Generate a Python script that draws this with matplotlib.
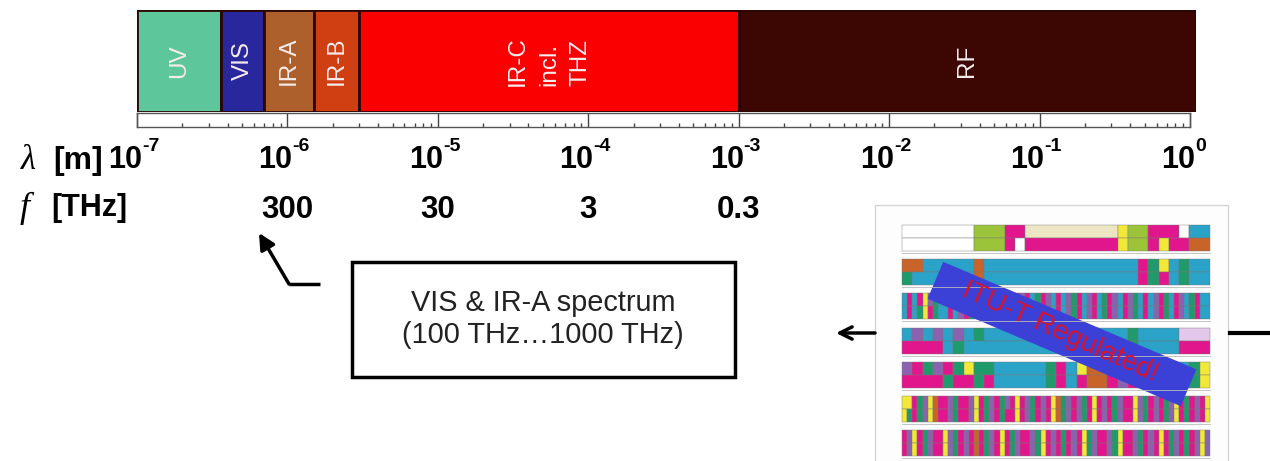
import numpy as np
import matplotlib
matplotlib.use("Agg")
import matplotlib.pyplot as plt
from matplotlib.patches import Rectangle
from matplotlib.ticker import LogLocator, NullFormatter
from matplotlib import transforms

plt.rcParams["font.family"] = ["Liberation Sans", "DejaVu Sans"]

# spectrum bands, wavelength in m
bands = ["UV", "VIS", "IR-A", "IR-B", "IR-C\nincl.\nTHZ", "RF"]
band_start = [1e-7, 3.6e-7, 7e-7, 1.5e-6, 3e-6, 1e-3]
band_end = [3.6e-7, 7e-7, 1.5e-6, 3e-6, 1e-3, 1.1]
band_colors = ["#5dc79b", "#28289c", "#ae602c", "#cf3f12", "#fb0000", "#3c0602"]

wl_exponents = [-7, -6, -5, -4, -3, -2, -1, 0]
freq_wl = [1e-6, 1e-5, 1e-4, 1e-3]
freq_labels = ["300", "30", "3", "0.3"]

# rough copy of the ITU frequency allocation chart (one letter = one cell)
itu_colors = {"w": "#ffffff", "e": "#ece6c4", "o": "#9cc43a", "m": "#e2168c",
              "c": "#2ba3c9", "g": "#1f9a6a", "y": "#f2e83a", "r": "#c8642a",
              "p": "#8a62b0", "l": "#e4c8ec"}
itu_top = [
    "wwwwwwwooommeeeeeeeeeyoommmwcc",
    "rrcccccrcccccccccccccccmgycgcc",
    "cmcmypgccmcpmgcpmcmgpcmpmcgmpcmcpgmcpmcgmpcmpgcmcpmgcmpcgmcc",
    "cpcpcpcgccccccccccccccgcccclll",
    "pmgpmgyggcccccgmcyrrmpmgymycgy",
    "yymgpyrmmpgmmpymgpmgpmympgmpmyrgpmpgmympmgpmmypgmpmgpymgmpmy",
    "mpymgpmmypgmpmrmgpmymgpmmpgympmgmpmygpmmpgymmpgmpmymgpmgmpyp",
]
itu_bottom = [
    "wwwwwwwooomwmmmmmmmmmyoomymmrr",
    "gccccccrcccccccccccccccmgmcgcc",
    "cmcgymgccmcpmgcpmcmgpcmpmcgmpcmcpgmcpmcgmpcmpgcmcpmgcmpcgmcc",
    "mmmmcgccccccccccccccccgccccmmm",
    "mmmmgmmgmcccccgmcmrrmpmgmmmcgy",
    "ygmgpyrmmpgmmpymgpmgmmympgmpmyrgpmpgmympmgpmmypgmpmgpymgmpmy",
    "mpymgpmmypgmpmrmgpmymgpmmpgympmgmpmygpmmpgymmpgmpmymgpmgmpyp",
]

W, H = 1270, 461
fig = plt.figure(figsize=(W / 100, H / 100), dpi=100)

# overlay axes in pixel units for the annotations
ax0 = fig.add_axes([0, 0, 1, 1])
ax0.set_xlim(0, W)
ax0.set_ylim(H, 0)
ax0.axis("off")

dec = (1190 - 137) / 7.0

# spectrum bar
bar_w = dec * np.log10(band_end[-1] / band_start[0])
ax_bar = fig.add_axes([137 / W, 1 - 112 / H, bar_w / W, 102 / H], zorder=3)
ax_bar.set_xscale("log")
ax_bar.set_xlim(band_start[0], band_end[-1])
ax_bar.set_ylim(-0.5, 0.5)
ax_bar.axis("off")
ax_bar.barh(0, np.array(band_end) - np.array(band_start), left=band_start,
            height=1, color=band_colors, edgecolor="#2b0604", linewidth=2)
for name, s, e in zip(bands, band_start, band_end):
    ax_bar.text(np.sqrt(s * e), 0, name, rotation=90, color="#f6ecec",
                fontsize=17.5, ha="center", va="center", linespacing=1.55,
                multialignment="left")

# wavelength ruler
ax_r = fig.add_axes([137 / W, 1 - 127 / H, 1053 / W, 14 / H], zorder=3)
ax_r.set_xscale("log")
ax_r.set_xlim(1e-7, 1)
ax_r.set_yticks([])
ax_r.set_xticks([10.0 ** k for k in wl_exponents])
ax_r.xaxis.set_minor_locator(LogLocator(base=10, subs=np.arange(2, 10), numticks=100))
ax_r.xaxis.set_minor_formatter(NullFormatter())
ax_r.tick_params(axis="x", which="major", direction="in", length=10, width=1,
                 color="#444444", labelbottom=False)
ax_r.tick_params(axis="x", which="minor", direction="in", length=3, width=1,
                 color="#444444")
for sp in ax_r.spines.values():
    sp.set_color("#555555")
    sp.set_linewidth(1)

# tick labels 10^k drawn as base + raised exponent
tr = transforms.blended_transform_factory(ax_r.transData, fig.transFigure)
tr_sh = transforms.offset_copy(tr, fig=fig, x=3.6, y=0, units="points")
for k in wl_exponents:
    ax_r.text(10.0 ** k, 1 - 168 / H, "10", transform=tr_sh, fontsize=22,
              fontweight="bold", ha="right", va="baseline")
    ax_r.text(10.0 ** k, 1 - 151 / H, str(k), transform=tr_sh, fontsize=14,
              fontweight="bold", ha="left", va="baseline")

# frequency row
for wl, lab in zip(freq_wl, freq_labels):
    ax_r.text(wl, 1 - 218 / H, lab, transform=tr, fontsize=22.5,
              fontweight="bold", ha="center", va="baseline")

ax0.text(28, 160, "λ", family="Liberation Serif", style="italic",
         fontsize=25, ha="center", va="center")
ax0.text(53, 161, "[m]", fontweight="bold", fontsize=23, ha="left", va="center")
ax0.text(25, 208, "f", family="Liberation Serif", style="italic",
         fontsize=26, ha="center", va="center")
ax0.text(51, 208, "[THz]", fontweight="bold", fontsize=22, ha="left", va="center")

# text box and arrows
ax0.add_patch(Rectangle((352, 262), 383, 115, facecolor="white",
                        edgecolor="black", linewidth=2.5))
ax0.text(543, 319, "VIS & IR-A spectrum\n(100 THz…1000 THz)", fontsize=20.8,
         ha="center", va="center", linespacing=1.2, color="#222222")
ax0.plot([320, 289], [284, 284], color="black", lw=2.5, solid_capstyle="butt")
ax0.annotate("", xy=(259, 233), xytext=(289, 284),
             arrowprops=dict(arrowstyle="-|>", color="black", lw=2.5,
                             mutation_scale=24, shrinkA=0, shrinkB=0))
ax0.annotate("", xy=(836, 333), xytext=(875, 333),
             arrowprops=dict(arrowstyle="->", color="black", lw=2.5,
                             mutation_scale=22, shrinkA=0, shrinkB=0))
ax0.plot([1230, 1270], [333, 333], color="black", lw=3)

# ITU chart picture
ax0.add_patch(Rectangle((875, 205), 353, 270, facecolor="#fdfdfd",
                        edgecolor="#d4d4d4", linewidth=1))
x0, x1 = 902, 1210
for r, (top, bot) in enumerate(zip(itu_top, itu_bottom)):
    ytop = 225 + r * 34.2
    for k, row in enumerate([top, bot]):
        cw = (x1 - x0) / len(row)
        # merge equal neighbouring cells into one block
        starts = [0] + [i for i in range(1, len(row)) if row[i] != row[i - 1]]
        ends = starts[1:] + [len(row)]
        ax0.barh(ytop + 6.5 + 13 * k, [(e - s) * cw for s, e in zip(starts, ends)],
                 left=[x0 + s * cw for s in starts], height=13,
                 color=[itu_colors[row[s]] for s in starts], edgecolor="#777777",
                 linewidth=0.3)
    ax0.plot([x0, x1], [ytop + 28, ytop + 28], color="#bbbbbb", lw=0.6)

banner = Rectangle((-137.5, -20), 275, 40, facecolor="#3b40d6", edgecolor="none",
                   transform=transforms.Affine2D().rotate_deg(23).translate(1062, 334)
                   + ax0.transData)
ax0.add_patch(banner)
ax0.text(1060, 332, "ITU-T Regulated!", rotation=-24, rotation_mode="anchor",
         color="#d8142c", fontsize=20, ha="center", va="center")

fig.savefig("out.png", dpi=100)
